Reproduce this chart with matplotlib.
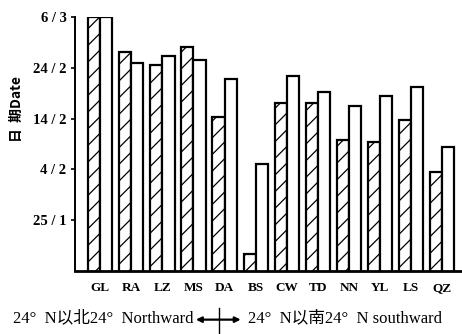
import matplotlib
matplotlib.use("Agg")
import matplotlib.pyplot as plt
import numpy as np

# Data (day-of-year: Jan 15 = 15, Feb 4 = 35, Mar 6 = 65)
sites = ["GL", "RA", "LZ", "MS", "DA", "BS", "CW", "TD", "NN", "YL", "LS", "QZ"]
hatched_vals = [65, 58.0, 55.5, 59.0, 45.2, 18.4, 48.1, 48.1, 40.8, 40.4, 44.8, 34.4]
hollow_vals = [65, 55.9, 57.3, 56.5, 52.7, 36.0, 53.3, 50.3, 47.5, 49.5, 51.1, 39.4]
ytick_vals = [25, 35, 45, 55, 65]
ytick_labels = ["25 / 1", "4 / 2", "14 / 2", "24 / 2", "6 / 3"]

serif = ["Liberation Serif", "Noto Sans CJK SC", "DejaVu Sans"]

fig = plt.figure(figsize=(4.62, 3.34), dpi=100)
ax = fig.add_axes([0.162, 0.188, 0.835, 0.762])

x = np.arange(len(sites))
w = 0.39
plt.rcParams['hatch.linewidth'] = 0.9
ax.bar(x - w / 2, hatched_vals, width=w, bottom=0, facecolor="white",
       edgecolor="black", linewidth=1.6, hatch="//")
ax.bar(x + w / 2, hollow_vals, width=w, facecolor="white",
       edgecolor="black", linewidth=1.6)

ax.set_ylim(15, 65)
ax.set_xlim(-0.82, 11.6)
ax.set_yticks(ytick_vals)
ax.set_yticklabels(ytick_labels, fontfamily=serif, fontweight="bold", fontsize=10.5)
ax.set_xticks(x)
ax.set_xticklabels(sites, fontfamily=serif, fontweight="bold", fontsize=9.5)
ax.tick_params(axis="y", length=3, width=1.2, pad=3)
ax.tick_params(axis="x", length=0, pad=8)
for s in ["top", "right"]:
    ax.spines[s].set_visible(False)
ax.spines["left"].set_linewidth(1.4)
ax.spines["bottom"].set_linewidth(2.0)

fig.text(0.037, 0.675, "日  期Date", rotation=90, ha="center", va="center",
         fontfamily=["Noto Sans CJK SC", "DejaVu Sans"], fontweight="bold", fontsize=10)

fig.text(0.418, 0.046, "24°  N以北24°  Northward", ha="right", va="center",
         fontfamily=serif, fontsize=12)
fig.text(0.537, 0.046, "24°  N以南24°  N southward", ha="left", va="center",
         fontfamily=serif, fontsize=12)
fig.add_artist(matplotlib.patches.FancyArrowPatch(
    (0.418, 0.043), (0.527, 0.043), transform=fig.transFigure,
    arrowstyle="<|-|>", mutation_scale=8, linewidth=1.6, color="black"))
fig.add_artist(matplotlib.lines.Line2D([0.474, 0.474], [0.0, 0.078],
                                       transform=fig.transFigure, color="black", linewidth=1.0))

fig.savefig("out.png", dpi=100)
